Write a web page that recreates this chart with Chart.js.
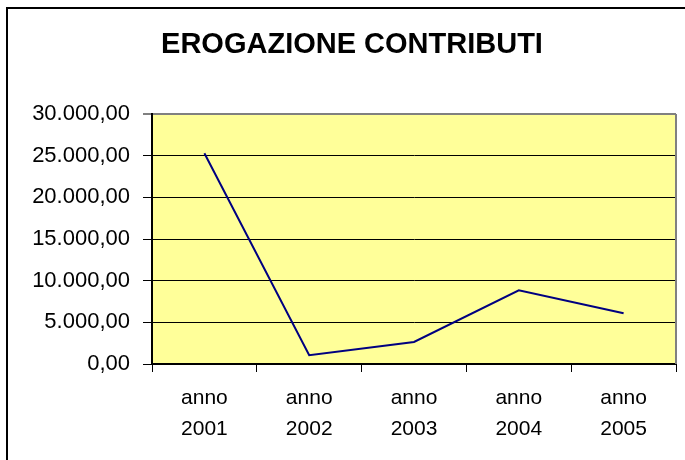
<!DOCTYPE html>
<html>
<head>
<meta charset="utf-8">
<script src="https://cdn.jsdelivr.net/npm/chart.js@4.4.0/dist/chart.umd.min.js"></script>
<style>
  html, body { margin: 0; padding: 0; background: #fff; }
  #chart { display: block; }
</style>
</head>
<body>
<canvas id="chart" width="685" height="460"></canvas>
<script>
// dati
var anni = [['anno', '2001'], ['anno', '2002'], ['anno', '2003'], ['anno', '2004'], ['anno', '2005']];
var contributi = [25300, 1050, 2650, 8850, 6100];
var yMin = 0, yMax = 30000, yStep = 5000;
var titolo = 'EROGAZIONE CONTRIBUTI';

// 30000 -> "30.000,00"
function formatta(v) {
    var intero = Math.round(v).toString().replace(/\B(?=(\d{3})+(?!\d))/g, '.');
    return intero + ',00';
}

var sfondo = {
    id: 'sfondo',
    beforeDraw: function(chart) {
        var ctx = chart.ctx, a = chart.chartArea;
        ctx.save();
        ctx.fillStyle = '#fff';
        ctx.fillRect(0, 0, chart.width, chart.height);
        ctx.fillStyle = '#FFFF99';
        ctx.fillRect(a.left, a.top, a.right - a.left, a.bottom - a.top);
        ctx.restore();
    },
    afterDraw: function(chart) {
        var ctx = chart.ctx, a = chart.chartArea;
        ctx.save();
        // bordo destro dell'area del grafico (grigio)
        ctx.strokeStyle = '#808080';
        ctx.lineWidth = 2;
        ctx.beginPath();
        ctx.moveTo(a.right, a.top);
        ctx.lineTo(a.right, a.bottom);
        ctx.stroke();
        // cornice esterna
        ctx.strokeStyle = '#000';
        ctx.lineWidth = 2;
        ctx.strokeRect(7, 8, 720, 500);
        // titolo
        ctx.fillStyle = '#000';
        ctx.font = 'bold 29px "Liberation Sans", Arial, sans-serif';
        ctx.textAlign = 'center';
        ctx.textBaseline = 'middle';
        ctx.fillText(titolo, 352, 45);
        ctx.restore();
    }
};

new Chart(document.getElementById('chart'), {
    type: 'line',
    data: {
        labels: anni,
        datasets: [{
            label: 'Contributi',
            data: contributi,
            borderColor: '#000080',
            borderWidth: 2,
            pointRadius: 0,
            tension: 0,
            fill: false
        }]
    },
    options: {
        responsive: false,
        animation: false,
        layout: { padding: { top: 114, right: 9, left: 0, bottom: 0 } },
        plugins: {
            legend: { display: false },
            title: { display: false },
            tooltip: { enabled: false }
        },
        scales: {
            x: {
                offset: true,
                grid: {
                    offset: true,
                    drawOnChartArea: false,
                    color: '#000',
                    tickLength: 8
                },
                border: { color: '#000', width: 2 },
                ticks: {
                    color: '#000',
                    padding: 11,
                    maxRotation: 0,
                    font: { family: '"Liberation Sans", Arial, sans-serif', size: 21, lineHeight: 1.48 }
                },
                afterFit: function(scale) { scale.height = 96; }
            },
            y: {
                min: yMin,
                max: yMax,
                grid: {
                    color: function(c) { return c.tick && c.tick.value === yMax ? '#808080' : '#000'; },
                    lineWidth: function(c) { return c.tick && c.tick.value === yMax ? 2 : 1; },
                    tickLength: 9
                },
                border: { color: '#000', width: 2 },
                ticks: {
                    stepSize: yStep,
                    color: '#000',
                    padding: 13,
                    font: { family: '"Liberation Sans", Arial, sans-serif', size: 22 },
                    callback: function(v) { return formatta(v); }
                },
                afterFit: function(scale) { scale.width = 152; }
            }
        }
    },
    plugins: [sfondo]
});
</script>
</body>
</html>
